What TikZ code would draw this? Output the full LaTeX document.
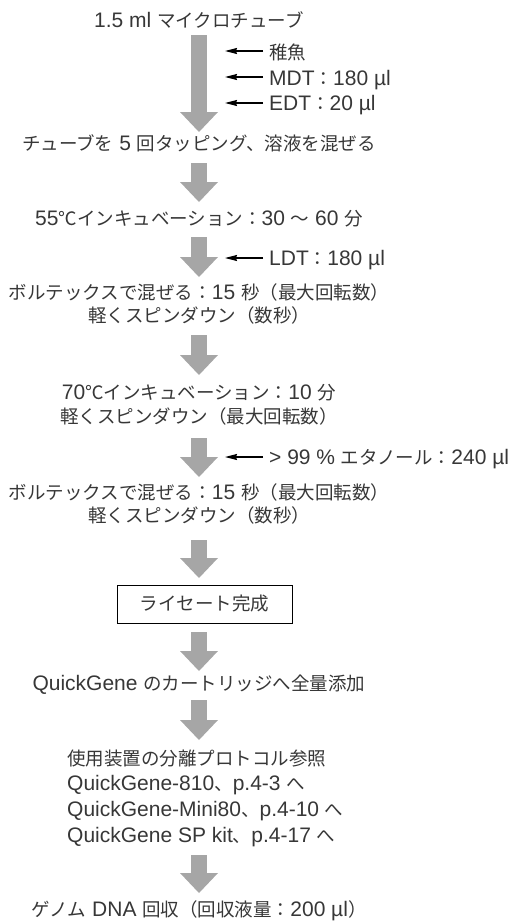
\documentclass[tikz,border=0pt]{standalone}
\usepackage{fontspec}
\setmainfont{Liberation Sans}[Scale=1.135]
\newfontfamily\jpf{Noto Sans CJK JP}
\newcommand\J[1]{{\jpf #1}}
\usetikzlibrary{arrows.meta}
\definecolor{txtgray}{RGB}{55,55,55}
\definecolor{arrgray}{RGB}{166,166,166}
\tikzset{
  txt/.style={font=\fontsize{18.5}{23}\selectfont, text=txtgray, inner sep=0pt},
  ctr/.style={txt, anchor=base},
  lft/.style={txt, anchor=base west},
  bigarrow/.style={draw=arrgray, line width=16pt,
    -{Triangle[length=20pt,width=38pt,line width=0pt]}},
  addarrow/.style={draw=black, line width=1.2pt,
    -{Stealth[length=12pt,width=6pt,inset=1pt]}},
  resultbox/.style={txt, draw=black, line width=0.9pt, anchor=center,
    minimum width=175pt, minimum height=38pt},
}
\begin{document}
\begin{tikzpicture}[x=1pt,y=-1pt]
\useasboundingbox (0,0) rectangle (517,921);

% main steps
\node[ctr] (t1) at (199,27) {1.5 ml \J{マイクロチューブ}};
\node[lft] (fish) at (269,59) {\J{稚魚}};
\node[lft] (mdt) at (269,85) {MDT\J{：}180 µl};
\node[lft] (edt) at (269,110) {EDT\J{：}20 µl};
\node[ctr] (t2) at (199,150) {\J{チューブを} 5 \J{回タッピング、溶液を混ぜる}};
\node[ctr] (t3) at (199,225) {55\J{℃インキュベーション：}30 \J{～} 60 \J{分}};
\node[lft] (ldt) at (269,265) {LDT\J{：}180 µl};
\node[ctr] (t4a) at (199,299) {\J{ボルテックスで混ぜる：}15 \J{秒（最大回転数）}};
\node[ctr] (t4b) at (199,322) {\J{軽くスピンダウン（数秒）}};
\node[ctr] (t5a) at (199,399) {70\J{℃インキュベーション：}10 \J{分}};
\node[ctr] (t5b) at (199,423) {\J{軽くスピンダウン（最大回転数）}};
\node[lft] (eth) at (269,464) {> 99 \% \J{エタノール：}240 µl};
\node[ctr] (t6a) at (199,499) {\J{ボルテックスで混ぜる：}15 \J{秒（最大回転数）}};
\node[ctr] (t6b) at (199,522) {\J{軽くスピンダウン（数秒）}};
\node[resultbox] (lys) at (204.5,604) {\J{ライセート完成}};
\node[ctr] (t7) at (199,690) {QuickGene \J{のカートリッジへ全量添加}};
\node[lft] (t8a) at (67,765) {\J{使用装置の分離プロトコル参照}};
\node[lft] (t8b) at (67,790) {QuickGene-810\J{、}p.4-3 \J{へ}};
\node[lft] (t8c) at (67,816) {QuickGene-Mini80\J{、}p.4-10 \J{へ}};
\node[lft] (t8d) at (67,842) {QuickGene SP kit\J{、}p.4-17 \J{へ}};
\node[ctr] (t9) at (199,916) {\J{ゲノム} DNA \J{回収（回収液量：}200 µl\J{）}};

% big arrow end points
\coordinate (a1s) at (199,35);  \coordinate (a1e) at (199,132);
\coordinate (a2s) at (199,163); \coordinate (a2e) at (199,202);
\coordinate (a3s) at (199,237); \coordinate (a3e) at (199,277);
\coordinate (a4s) at (199,335); \coordinate (a4e) at (199,375);
\coordinate (a5s) at (199,438); \coordinate (a5e) at (199,477);
\coordinate (a6s) at (199,540); \coordinate (a6e) at (199,578);
\coordinate (a7s) at (199,632); \coordinate (a7e) at (199,671);
\coordinate (a8s) at (199,700); \coordinate (a8e) at (199,740);
\coordinate (a9s) at (199,855); \coordinate (a9e) at (199,893);
\foreach \i in {1,...,9} {\draw[bigarrow] (a\i s) -- (a\i e);}

% additions
\coordinate (fishT) at (225,51);  \coordinate (fishS) at (263,51);
\coordinate (mdtT) at (225,77);   \coordinate (mdtS) at (263,77);
\coordinate (edtT) at (225,103);  \coordinate (edtS) at (263,103);
\coordinate (ldtT) at (225,258);  \coordinate (ldtS) at (263,258);
\coordinate (ethT) at (225,457);  \coordinate (ethS) at (263,457);
\foreach \n in {fish,mdt,edt,ldt,eth} {\draw[addarrow] (\n S) -- (\n T);}
\end{tikzpicture}
\end{document}
